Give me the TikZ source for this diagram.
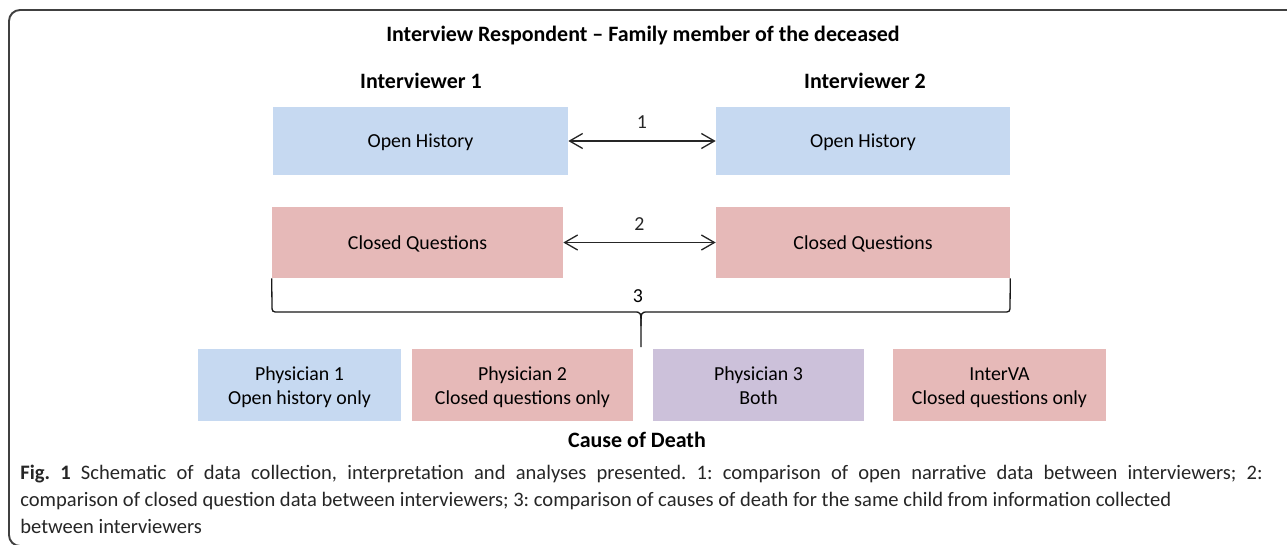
\documentclass[tikz,border=0pt]{standalone}
\usepackage{fontspec}
\setmainfont{Carlito}
\usetikzlibrary{arrows.meta}
\definecolor{histblue}{HTML}{C6D9F1}
\definecolor{closedpink}{HTML}{E6B9B8}
\definecolor{bothpurple}{HTML}{CCC1DA}

\begin{document}
\begin{tikzpicture}[x=0.02cm,y=-0.02cm,>={Straight Barb[length=0.26cm,width=0.3cm]},
    box/.style={inner sep=0pt,align=center,font=\fontsize{11.3}{13.7}\selectfont},
    heading/.style={anchor=base,font=\fontsize{12.5}{14}\selectfont\bfseries},
    link/.style={<->,line width=0.75pt,black!85},
    bracket/.style={line width=0.75pt,black!90}]
            \useasboundingbox (0,0) rectangle (1287,544);
            \draw[line width=1.1pt,black!75,rounded corners=0.22cm]
                (1300,10) -- (9,10) -- (9,546) -- (1300,546);
            % headings
            \node[heading] (title) at (643,42) {Interview Respondent -- Family member of the deceased};
            \node[heading] (int1) at (421,89) {Interviewer 1};
            \node[heading] (int2) at (865,89) {Interviewer 2};
            % interview boxes
            \node[box,text depth=0pt,fill=histblue,minimum width=5.9cm,minimum height=1.36cm] (oh1) at (420.5,141) {Open History};
            \node[box,text depth=0pt,fill=histblue,minimum width=5.88cm,minimum height=1.36cm] (oh2) at (863,141) {Open History};
            \node[box,text depth=0pt,fill=closedpink,minimum width=5.82cm,minimum height=1.42cm] (cq1) at (417.5,242.5) {Closed Questions};
            \node[box,text depth=0pt,fill=closedpink,minimum width=5.88cm,minimum height=1.42cm] (cq2) at (863,242.5) {Closed Questions};
            \draw[link] (oh1) -- (oh2) node[box,midway,above=6.5pt] (lab1) {1};
            \draw[link] (cq1) -- (cq2) node[box,midway,above=6.5pt] (lab2) {2};
            % brace
            \coordinate (tip) at (641,347);
            \draw[bracket] (cq1.south west) -- (272,305) .. controls (272,312) .. (279,312) -- (634,312)
                .. controls (641,312) .. (641,326) -- (tip);
            \draw[bracket] (cq2.south east) -- (1010,305) .. controls (1010,312) .. (1003,312) -- (648,312)
                .. controls (641,312) .. (641,326);
            \node[box,anchor=base] (lab3) at (638,302) {3};
            % cause of death
            \foreach \nm/\cx/\bw/\col/\txt in {p1/299.5/4.06/histblue/{Physician 1\\Open history only},
                    p2/522.5/4.42/closedpink/{Physician 2\\Closed questions only},
                    p3/758.5/4.22/bothpurple/{Physician 3\\Both},
                    iva/999.5/4.26/closedpink/{InterVA\\Closed questions only}}
                \node[box,text height=25pt,text depth=3pt,fill=\col,minimum width=\bw cm,minimum height=1.44cm] (\nm) at (\cx,385) {\txt};
            \node[heading] (cod) at (637,447) {Cause of Death};
            % caption
            \node[anchor=base west,inner sep=0pt,text width=24.85cm,align=justify,
                font=\fontsize{11.7}{15.6}\selectfont\frenchspacing,text=black!85] (caption) at (20,479)
                {\textbf{Fig. 1} Schematic of data collection, interpretation and analyses presented. 1: comparison of open narrative data between interviewers; 2:\linebreak
                comparison of closed question data between interviewers; 3: comparison of causes of death for the same child from information collected\newline
                between interviewers};
        \end{tikzpicture}
\end{document}
